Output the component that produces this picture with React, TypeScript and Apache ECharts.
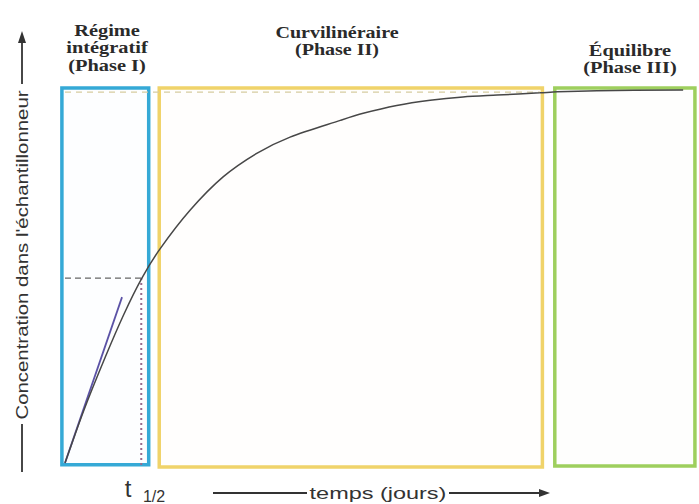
import React, { useEffect, useRef } from "react";
import * as echarts from "echarts";

// Curve (time in days, relative concentration)
const timeDays = [0, 3, 6.5, 9.5, 12.4, 15.3, 20.2, 25.5, 31.0, 36.3, 44.4, 48.1, 53.5, 58.9, 64.2, 69.7, 76.6, 79.4, 85.8, 99.7];
const concentration = [0, 0.14, 0.285, 0.4, 0.497, 0.575, 0.68, 0.769, 0.833, 0.876, 0.921, 0.94, 0.961, 0.975, 0.984, 0.989, 0.995, 0.998, 1.001, 1.003];

// Initial slope (tangent)
const tangentX = [0, 9.2];
const tangentY = [0, 0.446];

// Half-life marker
const tHalf = 12.3;
const halfConc = 0.497;
const baseConc = -0.008;

// Plateau (asymptote)
const plateauX = [0, 76.6];
const plateauConc = 0.997;

// Phases
const phaseNames = ["Phase I", "Phase II", "Phase III"];
const phaseStart = [-0.5, 15.2, 79.0];
const phaseEnd = [13.5, 77.0, 101.6];
const phaseTop = [1.008, 1.008, 1.008];
const phaseBottom = [-0.005, -0.011, -0.008];
const phaseColors = ["#35a9d6", "#f0d36a", "#9ecf5e"];
const phaseFills = ["rgba(235,248,253,0.1)", "rgba(253,250,235,0.1)", "rgba(245,250,238,0.1)"];

const titleFont = "Liberation Serif";
const sansFont = "Liberation Sans";

export default function App() {
  const ref = useRef<HTMLDivElement>(null);

  useEffect(() => {
    if (!ref.current) return;
    const chart = echarts.init(ref.current, undefined, { renderer: "svg" });

    const curveData = timeDays.map((t, i) => [t, concentration[i]]);
    const tangentData = tangentX.map((t, i) => [t, tangentY[i]]);

    const areas = phaseNames.map((name, i) => [
      {
        name,
        xAxis: phaseStart[i],
        yAxis: phaseTop[i],
        itemStyle: { color: phaseFills[i], borderColor: phaseColors[i], borderWidth: 3.5 },
      },
      { xAxis: phaseEnd[i], yAxis: phaseBottom[i] },
    ]);

    const titleStyle = {
      fontFamily: titleFont,
      fontWeight: "bold",
      fontSize: 17,
      fill: "#2a2a2a",
      align: "center",
      verticalAlign: "top",
      lineHeight: 17.5,
    };
    const sansStyle = {
      fontFamily: sansFont,
      fill: "#333",
      align: "center",
      verticalAlign: "middle",
    };

    chart.setOption({
      animation: false,
      backgroundColor: "#ffffff",
      grid: { left: 34, right: 1.6, top: 83.56, bottom: 33.56 },
      xAxis: { type: "value", min: -5, max: 102, show: false },
      yAxis: { type: "value", min: -0.02, max: 1.02, show: false },
      series: [
        {
          type: "line",
          data: curveData,
          smooth: 0.3,
          symbol: "none",
          clip: false,
          z: 5,
          lineStyle: { color: "#474747", width: 1.5 },
          markArea: {
            silent: true,
            label: { show: false },
            data: areas,
          },
        },
        {
          type: "line",
          data: plateauX.map((t) => [t, plateauConc]),
          symbol: "none",
          clip: false,
          z: 3,
          lineStyle: { color: "#d6cca0", width: 1.2, type: [6, 5] },
        },
        {
          type: "line",
          data: tangentData,
          symbol: "none",
          clip: false,
          z: 4,
          lineStyle: { color: "#5b52a6", width: 1.8 },
        },
        {
          type: "line",
          data: [[0, halfConc], [tHalf, halfConc]],
          symbol: "none",
          clip: false,
          z: 4,
          lineStyle: { color: "#666", width: 1.3, type: [6, 4] },
        },
        {
          type: "line",
          data: [[tHalf, halfConc], [tHalf, baseConc]],
          symbol: "none",
          clip: false,
          z: 4,
          lineStyle: { color: "#9a6a8c", width: 2, type: [2, 3] },
        },
      ],
      graphic: [
        { type: "text", x: 107, y: 21, scaleX: 1.2, style: { ...titleStyle, text: "Régime\nintégratif\n(Phase I)" } },
        { type: "text", x: 337, y: 23, scaleX: 1.18, style: { ...titleStyle, text: "Curvilinéraire\n(Phase II)" } },
        { type: "text", x: 630, y: 41, scaleX: 1.2, style: { ...titleStyle, text: "Équilibre\n(Phase III)" } },
        {
          type: "text",
          x: 22,
          y: 255,
          rotation: Math.PI / 2,
          scaleX: 1.2,
          style: { ...sansStyle, text: "Concentration dans l'échantillonneur", fontSize: 17 },
        },
        { type: "line", shape: { x1: 22, y1: 424, x2: 22, y2: 472 }, style: { stroke: "#333", lineWidth: 1.8 } },
        { type: "line", shape: { x1: 22, y1: 84, x2: 22, y2: 40 }, style: { stroke: "#333", lineWidth: 1.8 } },
        { type: "polygon", shape: { points: [[22, 31], [18, 43], [26, 43]] }, style: { fill: "#333" } },
        {
          type: "text",
          x: 378,
          y: 493,
          scaleX: 1.38,
          style: { ...sansStyle, text: "temps (jours)", fontSize: 17 },
        },
        { type: "line", shape: { x1: 213, y1: 493, x2: 307, y2: 493 }, style: { stroke: "#333", lineWidth: 1.8 } },
        { type: "line", shape: { x1: 449, y1: 493, x2: 541, y2: 493 }, style: { stroke: "#333", lineWidth: 1.8 } },
        { type: "polygon", shape: { points: [[550, 493], [539, 489], [539, 497]] }, style: { fill: "#333" } },
        { type: "text", x: 128, y: 488, style: { ...sansStyle, text: "t", fontSize: 24 } },
        { type: "text", x: 154, y: 496, style: { ...sansStyle, text: "1/2", fontSize: 16 } },
      ],
    });

    return () => chart.dispose();
  }, []);

  return (
    <div
      ref={ref}
      style={{ position: "fixed", left: 0, top: 0, width: 699, height: 504, background: "#fff" }}
    />
  );
}
